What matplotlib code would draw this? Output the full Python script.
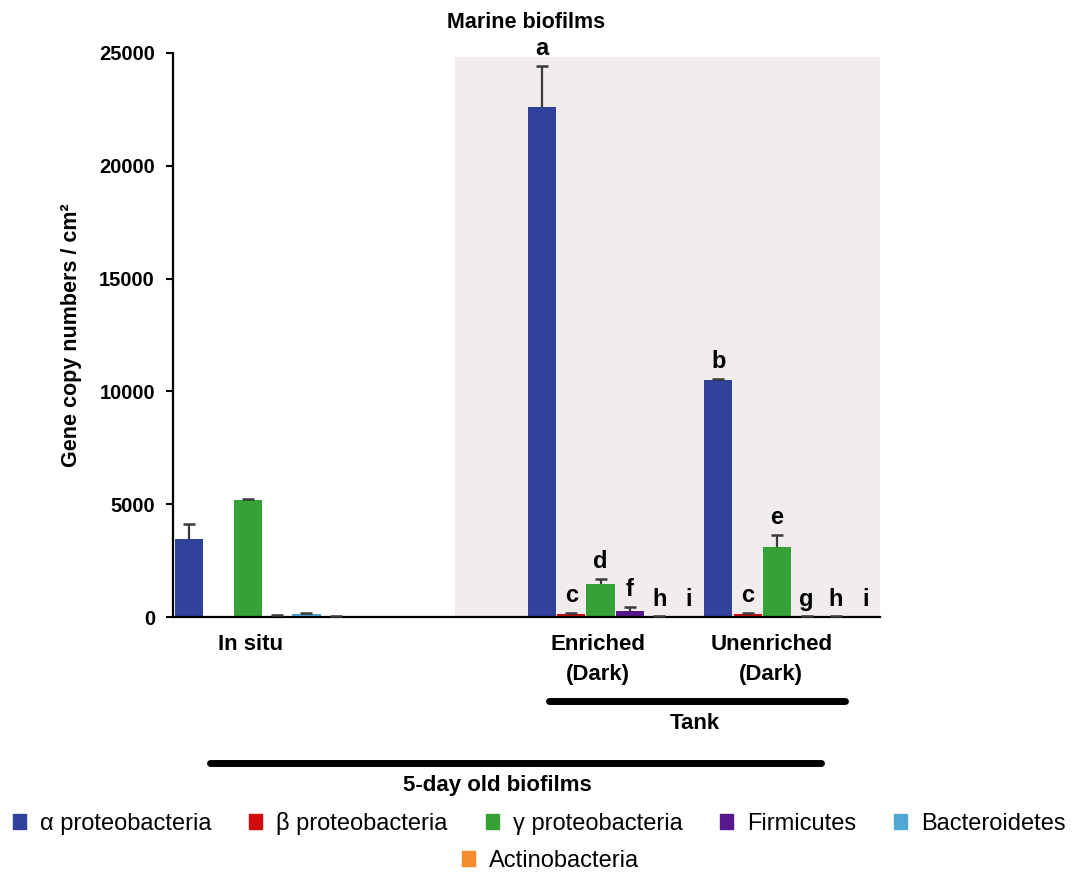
import matplotlib.pyplot as plt
import matplotlib.patches as mpatches
import numpy as np

plt.rcParams['font.family'] = ['Liberation Sans', 'DejaVu Sans']

groups = ["In situ", "", "Enriched\n(Dark)", "Unenriched\n(Dark)"]
taxa = ["α proteobacteria", "β proteobacteria", "γ proteobacteria",
        "Firmicutes", "Bacteroidetes", "Actinobacteria"]
colors = ["#31429a", "#d10b0b", "#36a136", "#56188a", "#4fa7d4", "#f58b2a"]

# gene copies per cm2, rows = taxa, cols = groups (empty slot = nan)
values = np.array([
    [3450, np.nan, 22600, 10500],
    [0, np.nan, 150, 150],
    [5190, np.nan, 1460, 3100],
    [50, np.nan, 270, 20],
    [150, np.nan, 20, 20],
    [20, np.nan, 0, 0],
])
errors = np.array([
    [680, np.nan, 1820, 50],
    [0, np.nan, 30, 40],
    [40, np.nan, 220, 530],
    [40, np.nan, 170, 10],
    [40, np.nan, 10, 10],
    [10, np.nan, 0, 0],
])
letters = [
    ["", "", "a", "b"],
    ["", "", "c", "c"],
    ["", "", "d", "e"],
    ["", "", "f", "g"],
    ["", "", "h", "h"],
    ["", "", "i", "i"],
]

fig = plt.figure(figsize=(10.79, 8.74), dpi=100)
ax = fig.add_axes([0.1603, 0.294, 0.6553, 0.6454])

n = len(taxa)
ax.axvspan(9.05, 23.6, ymax=0.992, color="#f1eded", zorder=0, lw=0)

for i in range(n):
    for g in range(len(groups)):
        v = values[i, g]
        if np.isnan(v):
            continue
        x = g * n + i
        e = errors[i, g]
        ax.bar(x, v, width=0.96, color=colors[i], zorder=2)
        if e > 0:
            # upper error only, cap on top
            ax.errorbar(x, v, yerr=[[0], [e]], fmt="none", ecolor="#3a3a3a",
                        elinewidth=1.6, capsize=0, zorder=3)
            ax.plot(x, v + e, marker="_", ms=9, mew=1.8, color="#3a3a3a", zorder=3)
        if letters[i][g]:
            ax.text(x, v + e + 250, letters[i][g], ha="center", va="bottom",
                    fontsize=17, fontweight="bold", zorder=3)

ax.set_xlim(-0.54, 23.5)
ax.set_ylim(0, 25000)
ax.set_yticks(np.arange(0, 25001, 5000))
ax.tick_params(axis="y", labelsize=14.5, width=1.5, length=5, pad=8)
for t in ax.get_yticklabels():
    t.set_fontweight("bold")
ax.set_xticks([])
for s in ["top", "right"]:
    ax.spines[s].set_visible(False)
ax.spines["left"].set_linewidth(1.6)
ax.spines["bottom"].set_linewidth(1.6)
ax.set_ylabel("Gene copy numbers / cm²", fontsize=15.5, fontweight="bold", labelpad=12)
ax.set_title("Marine biofilms", fontsize=15.5, fontweight="bold", pad=18)

# group labels below axis
trans = ax.get_xaxis_transform()
label_x = [2.1, None, 13.9, 19.8]
for g, lab in enumerate(groups):
    if lab:
        ax.text(label_x[g], -0.03, lab, transform=trans, ha="center", va="top",
                fontsize=16, fontweight="bold", linespacing=1.55)

# bracket lines
ax.plot([12.24, 22.3], [-0.149, -0.149], transform=trans, color="black",
        lw=5, solid_capstyle="round", clip_on=False)
ax.text(17.2, -0.17, "Tank", transform=trans, ha="center", va="top",
        fontsize=16, fontweight="bold")
ax.plot([0.71, 21.5], [-0.259, -0.259], transform=trans, color="black",
        lw=5, solid_capstyle="round", clip_on=False)
ax.text(10.5, -0.28, "5-day old biofilms", transform=trans, ha="center", va="top",
        fontsize=16, fontweight="bold")

handles = [mpatches.Patch(color=c, label=t) for c, t in zip(colors, taxa)]
fig.legend(handles=handles[:5], loc="center", bbox_to_anchor=(0.5, 0.058),
           ncol=5, frameon=False, fontsize=17, handlelength=0.55,
           handleheight=0.55, handletextpad=0.6, columnspacing=1.6)
fig.legend(handles=handles[5:], loc="center", bbox_to_anchor=(0.51, 0.015),
           frameon=False, fontsize=17, handlelength=0.55, handleheight=0.55,
           handletextpad=0.6)

fig.savefig("out.png", dpi=100, facecolor="white")
